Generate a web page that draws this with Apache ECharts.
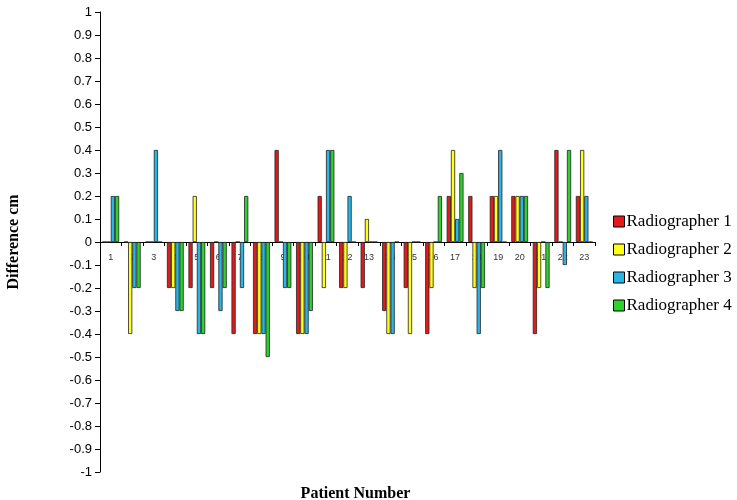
<!DOCTYPE html>
<html>
<head>
<meta charset="utf-8">
<script src="https://cdn.jsdelivr.net/npm/echarts@6/dist/echarts.min.js"></script>
<style>
  html, body { margin: 0; padding: 0; background: #fff; }
  #chart { width: 737px; height: 500px; }
</style>
</head>
<body>
<div id="chart"></div>
<script>
// patient numbers and per-radiographer differences (cm)
var patients = ["1","2","3","4","5","6","7","8","9","10","11","12","13","14","15","16","17","18","19","20","21","22","23"];
var radiographer1 = [0, 0, 0, -0.2, -0.2, -0.2, -0.4, -0.4, 0.4, -0.4, 0.2, -0.2, -0.2, -0.3, -0.2, -0.4, 0.2, 0.2, 0.2, 0.2, -0.4, 0.4, 0.2];
var radiographer2 = [0, -0.4, 0, -0.2, 0.2, 0, 0, -0.4, 0, -0.4, -0.2, -0.2, 0.1, -0.4, -0.4, -0.2, 0.4, -0.2, 0.2, 0.2, -0.2, 0, 0.4];
var radiographer3 = [0.2, -0.2, 0.4, -0.3, -0.4, -0.3, -0.2, -0.4, -0.2, -0.4, 0.4, 0.2, 0, -0.4, 0, 0, 0.1, -0.4, 0.4, 0.2, 0, -0.1, 0.2];
var radiographer4 = [0.2, -0.2, 0, -0.3, -0.4, -0.2, 0.2, -0.5, -0.2, -0.3, 0.4, 0, 0, 0, 0, 0.2, 0.3, -0.2, 0, 0.2, -0.2, 0.4, 0];
var seriesNames = ["Radiographer 1", "Radiographer 2", "Radiographer 3", "Radiographer 4"];
var colors = ["#e41a1a", "#ffff1a", "#29b6e6", "#2ed12e"];

var chart = echarts.init(document.getElementById("chart"));

function makeSeries(name, data) {
  return {
    name: name,
    type: "bar",
    data: data,
    barGap: "0%",
    barCategoryGap: "22%",
    itemStyle: { borderColor: "#222", borderWidth: 0.8 }
  };
}

chart.setOption({
  animation: false,
  color: colors,
  grid: { left: 100, right: 142, top: 12, bottom: 28, outerBoundsMode: "none", containLabel: false },
  legend: {
    orient: "vertical",
    left: 608,
    top: 208,
    itemWidth: 11,
    itemHeight: 11,
    itemGap: 11,
    icon: "rect",
    itemStyle: { borderColor: "#000", borderWidth: 1 },
    textStyle: { fontFamily: "Liberation Serif", fontSize: 17, color: "#000", padding: [0, 0, 0, -3] },
    data: seriesNames
  },
  xAxis: {
    type: "category",
    data: patients,
    position: "bottom",
    offset: -230, // sits on the zero line, half way up the plot
    name: "Patient Number",
    nameLocation: "middle",
    nameGap: 244,
    nameTextStyle: { fontFamily: "Liberation Serif", fontWeight: "bold", fontSize: 16, color: "#000", padding: [0, 0, 0, 16] },
    axisLine: { onZero: false, lineStyle: { color: "#000", width: 1 } },
    axisTick: { show: true, length: 4, lineStyle: { color: "#000" } },
    axisLabel: { fontFamily: "Liberation Sans", fontSize: 9, color: "#333", margin: 11, interval: 0 },
    splitLine: { show: false }
  },
  yAxis: {
    type: "value",
    min: -1,
    max: 1,
    interval: 0.1,
    name: "Difference cm",
    nameLocation: "middle",
    nameGap: 78,
    nameTextStyle: { fontFamily: "Liberation Serif", fontWeight: "bold", fontSize: 16, color: "#000" },
    axisLine: { show: true, lineStyle: { color: "#000", width: 1 } },
    axisTick: { show: true, inside: false, length: 5, lineStyle: { color: "#000" } },
    axisLabel: {
      fontFamily: "Liberation Sans",
      fontSize: 13,
      color: "#000",
      margin: 8,
      showMinLabel: true,
      showMaxLabel: true,
      hideOverlap: false,
      formatter: function (v) { return String(Math.round(v * 10) / 10); }
    },
    splitLine: { show: false }
  },
  series: [
    makeSeries(seriesNames[0], radiographer1),
    makeSeries(seriesNames[1], radiographer2),
    makeSeries(seriesNames[2], radiographer3),
    makeSeries(seriesNames[3], radiographer4)
  ]
});
</script>
</body>
</html>
